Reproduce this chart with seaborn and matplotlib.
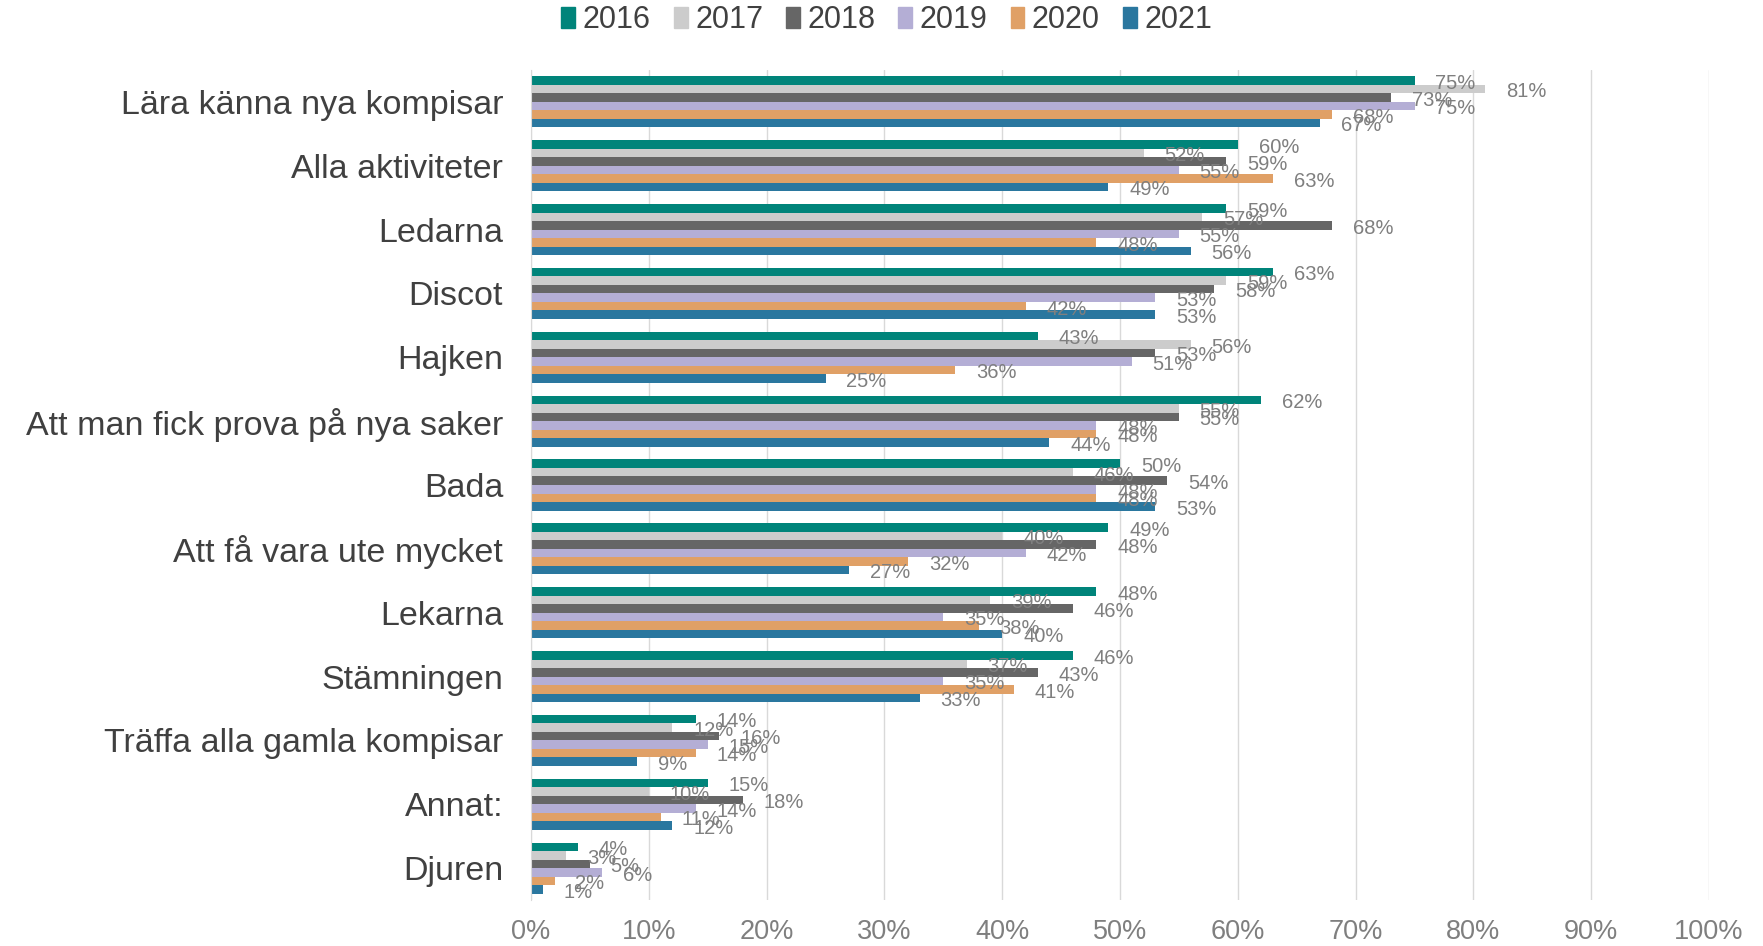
import numpy as np
import pandas as pd
import seaborn as sns
import matplotlib
matplotlib.use('Agg')
import matplotlib.pyplot as plt
from matplotlib.ticker import PercentFormatter

categories = ['Lära känna nya kompisar', 'Alla aktiviteter', 'Ledarna', 'Discot', 'Hajken',
              'Att man fick prova på nya saker', 'Bada', 'Att få vara ute mycket', 'Lekarna',
              'Stämningen', 'Träffa alla gamla kompisar', 'Annat:', 'Djuren']
years = ['2016', '2017', '2018', '2019', '2020', '2021']

v2016 = [75, 60, 59, 63, 43, 62, 50, 49, 48, 46, 14, 15, 4]
v2017 = [81, 52, 57, 59, 56, 55, 46, 40, 39, 37, 12, 10, 3]
v2018 = [73, 59, 68, 58, 53, 55, 54, 48, 46, 43, 16, 18, 5]
v2019 = [75, 55, 55, 53, 51, 48, 48, 42, 35, 35, 15, 14, 6]
v2020 = [68, 63, 48, 42, 36, 48, 48, 32, 38, 41, 14, 11, 2]
v2021 = [67, 49, 56, 53, 25, 44, 53, 27, 40, 33, 9, 12, 1]

colors = ['#00847A', '#CCCCCC', '#666666', '#B4AED5', '#E0A066', '#2A779F']

rows = []
for year, vals in zip(years, [v2016, v2017, v2018, v2019, v2020, v2021]):
    for cat, v in zip(categories, vals):
        rows.append({'kategori': cat, 'år': year, 'andel': v})
df = pd.DataFrame(rows)

sns.set_style('white')
plt.rcParams['font.family'] = ['Liberation Sans', 'DejaVu Sans']

fig = plt.figure(figsize=(17.63, 9.46), dpi=100)
ax = fig.add_axes([531 / 1763, 46 / 946, (1709 - 531) / 1763, (900 - 70) / 946])

sns.barplot(data=df, y='kategori', x='andel', hue='år', order=categories, hue_order=years,
            palette=colors, saturation=1, width=0.8, linewidth=0, orient='h', ax=ax)

for cont, year in zip(ax.containers, years):
    vals = df[df['år'] == year]['andel'].tolist()
    anns = ax.bar_label(cont, labels=['%d%%' % v for v in vals], padding=15,
                        fontsize=14.5, color='#7F7F7F')
    for a in anns:
        a.xyann = (a.xyann[0], -2)

ax.set_xlim(0, 100)
ax.set_xticks(np.arange(0, 101, 10))
ax.xaxis.set_major_formatter(PercentFormatter(decimals=0))
ax.grid(axis='x', color='#D9D9D9', linewidth=1)
ax.set_axisbelow(True)
ax.set_xlabel('')
ax.set_ylabel('')
for s in ['top', 'right', 'bottom']:
    ax.spines[s].set_visible(False)
ax.spines['left'].set_color('#D9D9D9')
ax.tick_params(axis='x', labelsize=19.5, labelcolor='#7F7F7F', length=0, pad=14)
ax.tick_params(axis='y', labelsize=24.5, labelcolor='#404040', length=0, pad=20)

# small ticks at the category borders on the left axis
ax.set_yticks(np.arange(-0.5, len(categories), 1), minor=True)
ax.tick_params(axis='y', which='minor', length=6, color='#D9D9D9', direction='out')

ax.get_legend().remove()
handles = [plt.Rectangle((0, 0), 1, 1, color=c) for c in colors]
fig.legend(handles, years, loc='center', bbox_to_anchor=(0.503, 1 - 20 / 946), ncol=6,
           frameon=False, fontsize=22, handlelength=0.45, handleheight=0.7, handletextpad=0.25,
           columnspacing=0.75, labelcolor='#404040')

plt.savefig('out.png', dpi=100)
